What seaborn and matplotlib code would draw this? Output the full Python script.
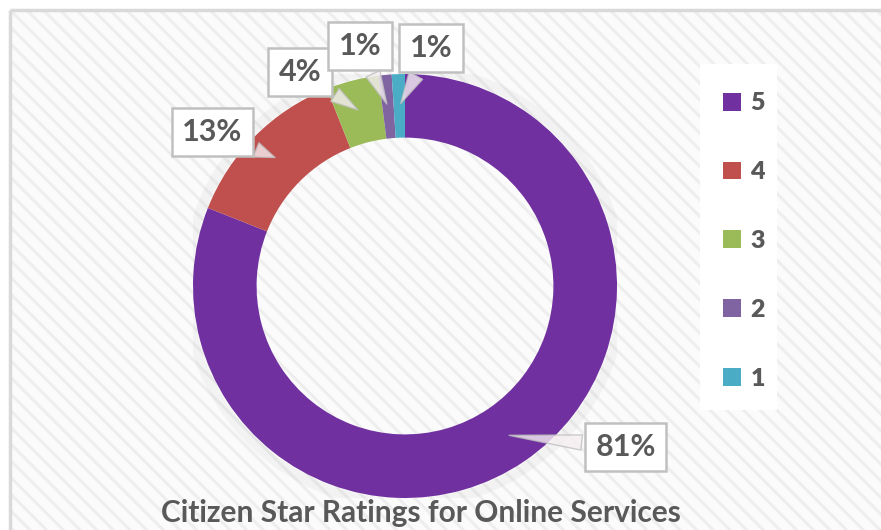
import matplotlib
matplotlib.use("Agg")
import numpy as np
import matplotlib.pyplot as plt
import seaborn as sns
from matplotlib.patches import Rectangle, Circle
from matplotlib.font_manager import FontProperties

# data
ratings = ["5", "4", "3", "2", "1"]
shares = [81, 13, 4, 1, 1]
colors = ["#7030A0", "#C0504D", "#9BBB59", "#8064A2", "#4BACC6"]
pct_labels = ["81%", "13%", "4%", "1%", "1%"]
title = "Citizen Star Ratings for Online Services"

sns.set_style("white")
plt.rcParams["font.family"] = ["Lato", "DejaVu Sans"]
plt.rcParams["hatch.linewidth"] = 2.2
plt.rcParams["hatch.color"] = "#eeeeee"

W, H = 881, 530
fig = plt.figure(figsize=(W / 100, H / 100), dpi=100)
fig.patch.set_facecolor("white")

# striped chart area
bg = fig.add_axes([0, 0, 1, 1])
bg.set_xlim(0, W)
bg.set_ylim(H, 0)
bg.axis("off")
bg.add_patch(Rectangle((10, 10), W + 20, H + 20, facecolor="#fbfbfb",
                       edgecolor="#eeeeee", hatch=r"\\", linewidth=0))
bg.add_patch(Rectangle((10, 10), W + 20, H + 20, facecolor="none",
                       edgecolor="#d9d9d9", linewidth=2.5))
# legend panel
bg.add_patch(Rectangle((700, 64), 77, 346, facecolor="white", edgecolor="none"))

cx, cy, r = 405, 286, 212
ax = fig.add_axes([(cx - r) / W, (H - cy - r) / H, 2 * r / W, 2 * r / H])
ax.patch.set_visible(False)

# soft shadow around the ring
for k in range(6):
    ax.add_patch(Circle((0, 0.0), 1.0 + 0.008 * (k + 1), facecolor="none",
                        edgecolor="#808080", linewidth=1.5, alpha=0.05, zorder=0))

wedges, _ = ax.pie(shares, colors=colors, startangle=90, counterclock=False,
                   radius=1, wedgeprops=dict(width=0.3, linewidth=0))
ax.set_xlim(-1, 1)
ax.set_ylim(-1, 1)
ax.axis("off")

label_pos = [(1.042, -0.759), (-0.910, 0.726), (-0.495, 1.009),
             (-0.212, 1.132), (0.123, 1.123)]
for w, lab, pos in zip(wedges, pct_labels, label_pos):
    mid = np.deg2rad((w.theta1 + w.theta2) / 2)
    tip = (0.85 * np.cos(mid), 0.85 * np.sin(mid))
    ax.annotate(lab, xy=tip, xytext=pos, ha="center", va="center",
                fontsize=22, fontweight="bold", color="#595959",
                annotation_clip=False,
                bbox=dict(boxstyle="square,pad=0.34", fc="white", ec="#c0c0c0", lw=1.8),
                arrowprops=dict(arrowstyle="wedge,tail_width=0.5,shrink_factor=0.5",
                                fc="#f5eef2", ec="#bfbfbf", alpha=0.8, lw=1))

legend_font = FontProperties(family=["Lato", "DejaVu Sans"], weight="heavy", size=18)
leg = fig.legend(wedges, ratings, loc="upper left", bbox_to_anchor=(710 / W, 1 - 80 / H),
                 frameon=False, prop=legend_font,
                 labelcolor="#595959", handlelength=0.72, handleheight=0.72,
                 handletextpad=0.4, labelspacing=1.87, borderpad=0)

fig.text(421 / W, 1 - 513 / H, title, ha="center", va="center",
         fontsize=21.5, fontweight="bold", color="#595959")

fig.savefig("out.png", dpi=100)
